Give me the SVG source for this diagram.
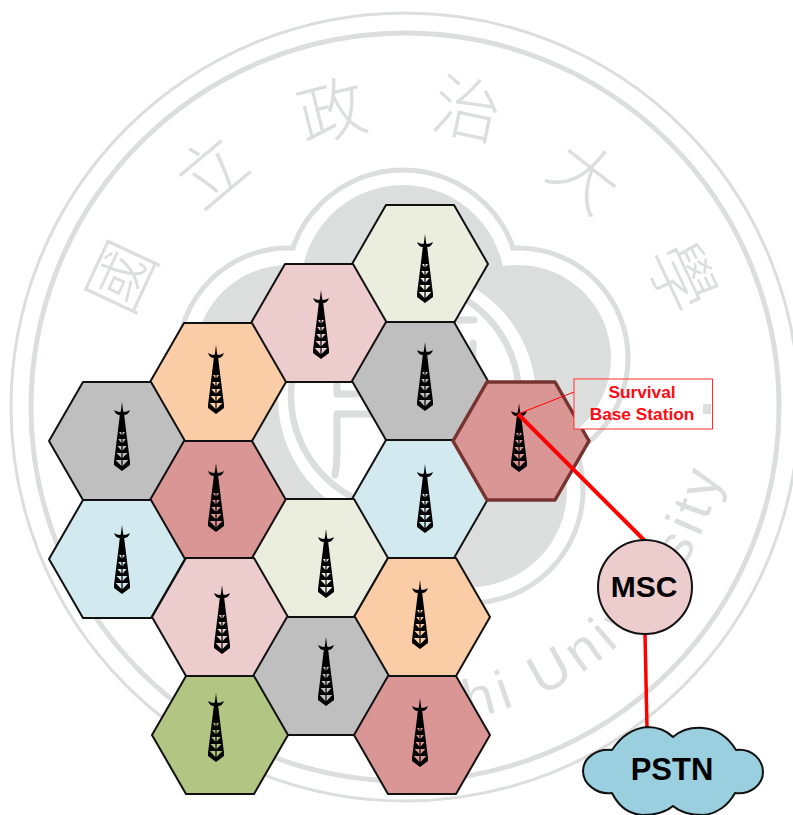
<svg xmlns="http://www.w3.org/2000/svg" width="793" height="815" viewBox="0 0 793 815">
<style>
.wm{fill:none;stroke:#dcdddd}
.cjk{font-family:"Noto Sans CJK TC","Liberation Sans",sans-serif;font-size:68px;fill:#dcdddd;text-anchor:middle;font-weight:300}
.en{font-family:"Liberation Sans",sans-serif;font-size:55px;fill:#dcdddd;letter-spacing:6px}
.hex{stroke:#111;stroke-width:2;stroke-linejoin:round}
.lab{font-family:"Liberation Sans",Arial,sans-serif;font-weight:bold;text-anchor:middle;fill:#000}
.red{font-family:"Liberation Sans",Arial,sans-serif;font-weight:bold;text-anchor:middle;fill:#ff0a14;font-size:17.300px}
.rg{fill:#fff;stroke:#dcdddd;stroke-width:5}
.wf{fill:#fff}
.gf{fill:#dcdddd}
.ch{fill:none;stroke:#dcdddd;stroke-width:7;stroke-linecap:round;stroke-linejoin:round}
</style>
<defs>
<polygon id="h" points="-34,-59 34,-59 68,0 34,59 -34,59 -68,0"/>
<path id="t" fill="#000" fill-rule="evenodd" d="M0,0 L1,8 L1.600,10 C4,10 6,9 8,8 C7,11 5,13 2.200,13 L3.500,24 L8,60 L8,63 L0,69 L-8,63 L-8,60 L-3.500,24 L-2.200,13 C-5,13 -7,11 -8,8 C-6,9 -4,10 -1.600,10 L-1,8 Z M-3,30 L-.6,33.500 L-.6,30 Z M3,30 L.6,33.500 L.6,30 Z M-3.800,37 L-.6,41 L-.6,37 Z M3.800,37 L.6,41 L.6,37 Z M-4.700,44 L-.6,48.500 L-.6,44 Z M4.700,44 L.6,48.500 L.6,44 Z M-5.500,51 L-.6,56 L-.6,51 Z M5.500,51 L.6,56 L.6,51 Z M-6.300,58 L-.6,64 L-.6,58 Z M6.300,58 L.6,64 L.6,58 Z"/>
<path id="uarc" d="M242.500,681.500 A325,325 0 0 0 710.400,289"/>
<clipPath id="boxclip"><rect x="574.500" y="379.500" width="138" height="49"/></clipPath>
<g id="seal">
<circle class="rg" cx="403" cy="287" r="117"/>
<circle class="rg" cx="518" cy="358" r="110"/>
<circle class="rg" cx="288" cy="358" r="110"/>
<circle class="rg" cx="470" cy="490" r="113"/>
<circle class="rg" cx="336" cy="490" r="113"/>
<circle class="wf" cx="403" cy="287" r="114"/>
<circle class="wf" cx="518" cy="358" r="107"/>
<circle class="wf" cx="288" cy="358" r="107"/>
<circle class="wf" cx="470" cy="490" r="110"/>
<circle class="wf" cx="336" cy="490" r="110"/>
<circle class="wf" cx="403" cy="410" r="130"/>
<circle class="gf" cx="403" cy="287" r="102"/>
<circle class="gf" cx="518" cy="358" r="93"/>
<circle class="gf" cx="288" cy="358" r="93"/>
<circle class="gf" cx="470" cy="490" r="97"/>
<circle class="gf" cx="336" cy="490" r="97"/>
<circle class="gf" cx="403" cy="400" r="135"/>
<circle class="wf" cx="407" cy="398" r="129"/>
<circle class="wm" cx="405" cy="396" r="114" stroke-width="6.500"/>
<path class="ch" d="M337,383 V394 H357 M373,414 H337 V450 Q337,465 335,475 M458,320 H474 M473,343 V372"/>
<rect x="703" y="404" width="8" height="10" class="gf"/>
</g>
</defs>
<rect width="793" height="815" fill="#fff"/>
<g id="watermark">
<circle class="wm" cx="405" cy="407" r="394" stroke-width="3"/>
<circle class="wm" cx="405" cy="407" r="374" stroke-width="5"/>
<use href="#seal"/>
<text class="cjk" transform="translate(122,277) rotate(-65)" y="24">國</text>
<text class="cjk" transform="translate(212,172) rotate(-40)" y="24">立</text>
<text class="cjk" transform="translate(332,112) rotate(-14)" y="24">政</text>
<text class="cjk" transform="translate(467,110) rotate(12)" y="24">治</text>
<text class="cjk" transform="translate(585,177) rotate(38)" y="24">大</text>
<text class="cjk" transform="translate(681,277) rotate(65)" y="24">學</text>
<text class="en"><textPath href="#uarc" startOffset="8">Chengchi University</textPath></text>
</g>
<g id="cells">
<g id="cell1"><use href="#h" x="420" y="264" class="hex" fill="#ebeedf"/><use href="#t" x="425" y="234"/></g>
<g id="cell2"><use href="#h" x="319" y="323" class="hex" fill="#eccccc"/><use href="#t" x="321" y="290"/></g>
<g id="cell3"><use href="#h" x="218" y="382" class="hex" fill="#facda6"/><use href="#t" x="216" y="345"/></g>
<g id="cell4"><use href="#h" x="420" y="381" class="hex" fill="#bfbfbf"/><use href="#t" x="425" y="342"/></g>
<g id="cell5"><use href="#h" x="117" y="441" class="hex" fill="#bfbfbf"/><use href="#t" x="122" y="402"/></g>
<g id="cell7"><use href="#h" x="420" y="499" class="hex" fill="#d2e9f0"/><use href="#t" x="425" y="464"/></g>
<g id="cell8"><use href="#h" x="218" y="500" class="hex" fill="#d99694"/><use href="#t" x="216" y="463"/></g>
<g id="cell9"><use href="#h" x="117" y="559" class="hex" fill="#d2e9f0"/><use href="#t" x="122" y="525"/></g>
<g id="cell10"><use href="#h" x="320" y="558" class="hex" fill="#ebeedf"/><use href="#t" x="326" y="529"/></g>
<g id="cell11"><use href="#h" x="422" y="617" class="hex" fill="#facda6"/><use href="#t" x="420" y="580"/></g>
<g id="cell12"><use href="#h" x="220" y="617" class="hex" fill="#eccccc"/><use href="#t" x="222" y="585"/></g>
<g id="cell13"><use href="#h" x="321" y="676" class="hex" fill="#bfbfbf"/><use href="#t" x="326" y="637"/></g>
<g id="cell14"><use href="#h" x="220" y="735" class="hex" fill="#b3c582"/><use href="#t" x="216" y="693"/></g>
<g id="cell15"><use href="#h" x="422" y="735" class="hex" fill="#d99694"/><use href="#t" x="420" y="698"/></g>
<g id="survival-cell"><use href="#h" x="521" y="441" fill="#d99694" stroke="#77332f" stroke-width="3.500" stroke-linejoin="round"/><use href="#t" x="519" y="403"/></g>
</g>
<g id="connectors" fill="none" stroke="#ff0000">
<line x1="518" y1="414" x2="645" y2="541" stroke-width="4"/>
<line x1="645" y1="634" x2="647" y2="728" stroke-width="3.500"/>
<line x1="518" y1="414" x2="574" y2="392" stroke-width="1"/>
</g>
<g id="msc"><circle cx="645" cy="587" r="47" fill="#eccccc" stroke="#111" stroke-width="2"/><text class="lab" x="644" y="597" font-size="30">MSC</text></g>
<g id="pstn"><path fill="#99cfde" stroke="#111" stroke-width="2" stroke-linejoin="round" d="M612,750 C622,735 635,728 647,727 C658,727 667,731 673,737 C680,731 690,727 703,728 C716,729 728,737 736,750 C752,748 763,760 763,772 C763,785 750,795 735,793 C728,806 716,814 703,815 C690,815 680,812 673,806 C666,812 655,815 642,815 C628,814 618,805 612,793 C597,795 583,784 583,771 C583,758 597,748 612,750 Z"/><text class="lab" x="672" y="780" font-size="31">PSTN</text></g>
<g id="label"><rect x="574" y="379" width="138.500" height="50" fill="#fff"/><use href="#seal" clip-path="url(#boxclip)"/><rect x="574" y="379" width="138.500" height="50" fill="none" stroke="#ff2a2a" stroke-width="1"/><text class="red" x="642" y="398">Survival</text><text class="red" x="642" y="420">Base Station</text></g>
</svg>
